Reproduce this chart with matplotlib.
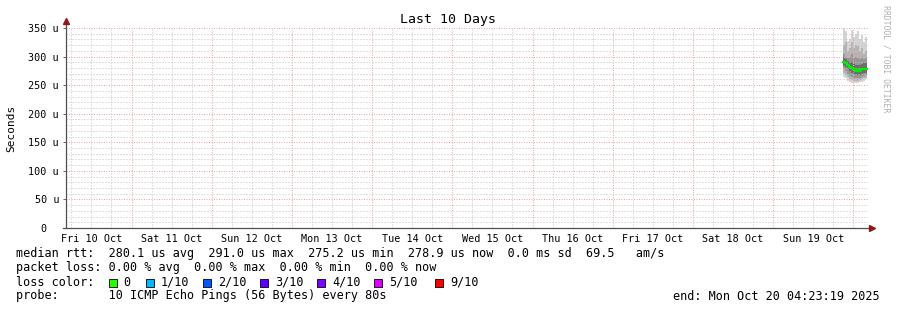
# smokeping style latency graph, last 10 days
import numpy as np
import matplotlib
matplotlib.use('Agg')
from matplotlib import pyplot as plt
from matplotlib.patches import Rectangle

# x is hours since Fri 10 Oct 00:00
x_start = 4.3886
x_end = 244.3886
day_labels = ['Fri 10 Oct', 'Sat 11 Oct', 'Sun 12 Oct', 'Mon 13 Oct', 'Tue 14 Oct',
              'Wed 15 Oct', 'Thu 16 Oct', 'Fri 17 Oct', 'Sat 18 Oct', 'Sun 19 Oct']

# sample start times (hours) on Sun 19 Oct evening / Mon 20 Oct morning
t = [237.0, 237.6, 238.2, 238.8, 239.4, 240.0, 240.6, 241.2, 241.8, 242.4, 243.0, 243.6, 244.2]

# ping values in microseconds (sorted smoke layers)
ping_min = [265, 262, 258, 255, 254, 254, 254, 254, 255, 256, 258, 260]
ping_p2 = [272, 268, 264, 260, 259, 258, 258, 258, 259, 260, 262, 263]
ping_p3 = [278, 275, 270, 266, 264, 263, 262, 262, 263, 264, 266, 267]
ping_p4 = [284, 282, 278, 274, 272, 270, 268, 268, 268, 270, 272, 272]
ping_p7 = [297, 295, 292, 290, 290, 287, 285, 286, 285, 287, 288, 288]
ping_p8 = [305, 300, 298, 300, 305, 298, 300, 298, 296, 300, 295, 298]
ping_p9 = [320, 325, 310, 315, 325, 315, 320, 318, 310, 315, 305, 310]
ping_max = [350, 345, 328, 330, 347, 335, 340, 345, 330, 338, 325, 335]
median = [291.0, 289.3, 285.3, 282.4, 279.6, 277.9, 275.4, 276.5, 275.4, 277.9, 278.9, 278.9]

loss_labels = ['0', '1/10', '2/10', '3/10', '4/10', '5/10', '9/10']
loss_colors = ['#26ff00', '#00b8ff', '#0059ff', '#5e00ff', '#7e00ff', '#dd00ff', '#ff0000']

W, H = 897, 310
fig = plt.figure(figsize=(W / 100, H / 100), dpi=100)
fig.patch.set_facecolor('white')
ax = fig.add_axes([66 / W, (H - 228) / H, 802 / W, 200 / H])
ax.set_xlim(x_start, x_end)
ax.set_ylim(0, 350)

# grid (drawn over the smoke, like rrdtool)
minor = dict(color='#c4c4c4', lw=0.72, ls=(0, (1, 2)), zorder=2.5)
major = dict(color='#f0a4a4', lw=0.72, ls=(0, (1, 1.5)), zorder=2.5)
for v in range(0, 351, 10):
    if v % 50:
        ax.axhline(v, **minor)
for h in np.arange(6, 246, 6):
    if h % 24:
        ax.axvline(h, **minor)
for v in range(50, 351, 50):
    ax.axhline(v, **major)
for h in range(24, 241, 24):
    ax.axvline(h, **major)

# smoke
tt = np.array(t)
def band(lo, hi, c):
    lo = list(lo) + [lo[-1]]
    hi = list(hi) + [hi[-1]]
    ax.fill_between(tt, lo, hi, step='post', color=c, lw=0, zorder=2)

band(ping_min, ping_max, '#d4d4d4')
band(ping_p2, ping_p9, '#b4b4b4')
band(ping_p3, ping_p8, '#969696')
band(ping_p4, ping_p7, '#6e6e6e')
ax.step(tt, list(median) + [median[-1]], where='post', color='#00ee00', lw=1.6, zorder=3)

# axes
for s in ax.spines.values():
    s.set_visible(False)
ax.plot([x_start, x_start], [0, 362], color='#505050', lw=0.9, clip_on=False, zorder=4)
ax.plot([x_start - 0.8, 245.2], [0, 0], color='#505050', lw=0.9, clip_on=False, zorder=4)
ax.plot([x_start], [363], marker='^', color='#8b1a1a', ms=4, clip_on=False, zorder=5)
ax.plot([245.6], [0], marker='>', color='#8b1a1a', ms=4, clip_on=False, zorder=5)

ax.set_yticks(range(0, 351, 50))
ax.set_yticklabels(['0  '] + ['%d u' % v for v in range(50, 351, 50)])
ax.set_xticks([12 + 24 * i for i in range(10)])
ax.set_xticklabels(day_labels)
ax.tick_params(axis='both', length=2, width=0.6, color='#505050', labelsize=7.3,
               labelfontfamily='DejaVu Sans Mono', pad=3)
ax.tick_params(axis='x', length=0, pad=4)

fig.text(448 / W, 1 - 19 / H, 'Last 10 Days', ha='center', va='center',
         family='DejaVu Sans Mono', fontsize=9.5)
fig.text(11 / W, 1 - 128 / H, 'Seconds', rotation=90, ha='center', va='center',
         family='DejaVu Sans Mono', fontsize=8)
fig.text(886 / W, 1 - 59 / H, 'RRDTOOL / TOBI OETIKER', rotation=270, ha='center', va='center',
         family='DejaVu Sans Mono', fontsize=5.9, color='#b0b0b0')

mono = dict(family='DejaVu Sans Mono', fontsize=8.5, va='center')
fig.text(16 / W, 1 - 254 / H,
         'median rtt:  280.1 us avg  291.0 us max  275.2 us min  278.9 us now  0.0 ms sd  69.5   am/s', **mono)
fig.text(16 / W, 1 - 268 / H,
         'packet loss: 0.00 % avg  0.00 % max  0.00 % min  0.00 % now', **mono)
fig.text(16 / W, 1 - 282 / H, 'loss color:', **mono)
fig.text(16 / W, 1 - 296 / H, 'probe:       10 ICMP Echo Pings (56 Bytes) every 80s', **mono)
fig.text(880 / W, 1 - 296 / H, 'end: Mon Oct 20 04:23:19 2025', ha='right',
         family='DejaVu Sans Mono', fontsize=8.5, va='center')

box_x = [108.7, 145.7, 202.7, 260, 317.3, 374, 435]
for bx, c, lab in zip(box_x, loss_colors, loss_labels):
    fig.patches.append(Rectangle((bx / W, 1 - 286.5 / H), 8 / W, 8 / H, transform=fig.transFigure,
                                 facecolor=c, edgecolor='black', lw=0.6))
    fig.text((bx + 15) / W, 1 - 282 / H, lab, **mono)

plt.savefig('out.png', dpi=100)
